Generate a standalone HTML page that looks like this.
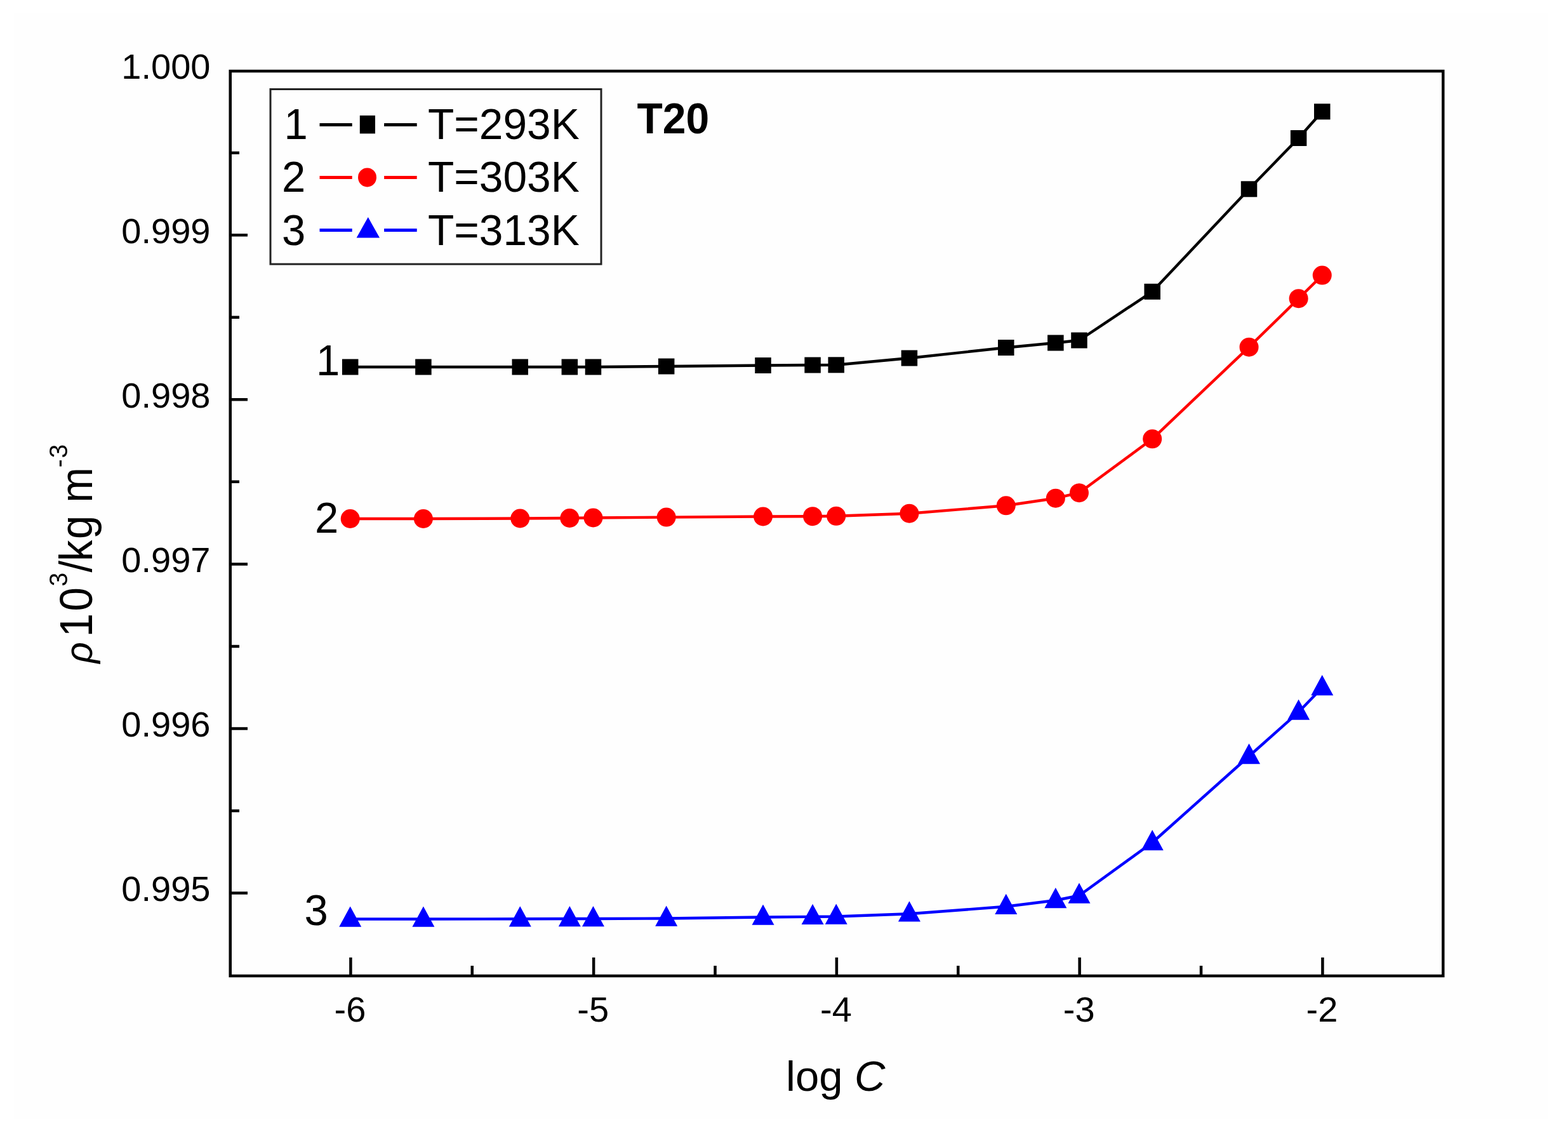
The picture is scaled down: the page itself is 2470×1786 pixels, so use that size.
<!DOCTYPE html>
<html><head><meta charset="utf-8"><title>Density vs log C</title>
<style>html,body{margin:0;padding:0;background:#fff;}svg{display:block;}text{font-family:"Liberation Sans",Arial,sans-serif;fill:#000;}</style></head><body>
<svg width="2470" height="1786" viewBox="0 0 2470 1786">
<rect x="0" y="0" width="2470" height="1786" fill="#fff"/>
<rect x="22" y="20" width="2416" height="1742" fill="#fefefe"/>
<rect x="362.75" y="112" width="1910.5" height="1425" fill="none" stroke="#000" stroke-width="4.5"/>
<path d="M362.75,370.30H390 M362.75,629.35H390 M362.75,888.40H390 M362.75,1147.45H390 M362.75,1406.50H390 M362.75,240.77H377 M362.75,499.82H377 M362.75,758.87H377 M362.75,1017.92H377 M362.75,1276.97H377 M552.40,1537V1508 M935.15,1537V1508 M1317.90,1537V1508 M1700.65,1537V1508 M2083.40,1537V1508 M743.77,1537V1521 M1126.53,1537V1521 M1509.28,1537V1521 M1892.03,1537V1521" stroke="#000" stroke-width="4.5" fill="none"/>
<text x="331.5" y="123.85" font-size="56" text-anchor="end">1.000</text>
<text x="331.5" y="382.90" font-size="56" text-anchor="end">0.999</text>
<text x="331.5" y="641.95" font-size="56" text-anchor="end">0.998</text>
<text x="331.5" y="901.00" font-size="56" text-anchor="end">0.997</text>
<text x="331.5" y="1160.05" font-size="56" text-anchor="end">0.996</text>
<text x="331.5" y="1419.10" font-size="56" text-anchor="end">0.995</text>
<text x="551.40" y="1609" font-size="56" text-anchor="middle">-6</text>
<text x="934.15" y="1609" font-size="56" text-anchor="middle">-5</text>
<text x="1316.90" y="1609" font-size="56" text-anchor="middle">-4</text>
<text x="1699.65" y="1609" font-size="56" text-anchor="middle">-3</text>
<text x="2082.40" y="1609" font-size="56" text-anchor="middle">-2</text>
<text x="1238" y="1718" font-size="67">log <tspan font-style="italic">C</tspan></text>
<g transform="translate(145,1049) rotate(-90) scale(1,1.065)"><text x="4.5" y="0.0" font-size="58"><tspan font-style="italic">&#961;</tspan></text><text x="45.7" y="0.0" font-size="67">1</text><text x="86.5" y="0.0" font-size="67">0</text><text x="125.6" y="-36.6" font-size="39">3</text><text x="147.5" y="0.0" font-size="67">/</text><text x="164.9" y="0.0" font-size="67">k</text><text x="200.1" y="0.0" font-size="67">g</text><text x="257.3" y="0.0" font-size="67">m</text><text x="312.8" y="-36.6" font-size="39">-</text><text x="327.5" y="-36.6" font-size="39">3</text></g>
<path d="M551.70,578.00 L666.91,578.00 L819.25,578.00 L897.33,578.00 L934.46,578.00 L1049.67,577.00 L1202.01,575.50 L1280.09,575.00 L1317.22,574.80 L1432.43,564.00 L1584.77,547.50 L1662.85,540.00 L1699.98,536.00 L1815.19,459.30 L1967.53,297.80 L2045.61,217.50 L2082.74,175.80" stroke="#000" stroke-width="4.4" fill="none" stroke-linejoin="round"/>
<path d="M551.70,817.00 L666.91,817.00 L819.25,816.50 L897.33,816.00 L934.46,815.50 L1049.67,814.60 L1202.01,813.50 L1280.09,813.20 L1317.22,812.80 L1432.43,808.70 L1584.77,796.30 L1662.85,784.70 L1699.98,776.20 L1815.19,691.30 L1967.53,546.70 L2045.61,470.20 L2082.74,433.60" stroke="#ff0000" stroke-width="4.4" fill="none" stroke-linejoin="round"/>
<path d="M551.70,1447.50 L666.91,1447.50 L819.25,1447.30 L897.33,1447.00 L934.46,1447.00 L1049.67,1446.50 L1202.01,1444.50 L1280.09,1443.80 L1317.22,1443.50 L1432.43,1439.30 L1584.77,1427.80 L1662.85,1418.00 L1699.98,1410.50 L1815.19,1327.00 L1967.53,1191.00 L2045.61,1121.50 L2082.74,1083.00" stroke="#0000ff" stroke-width="4.4" fill="none" stroke-linejoin="round"/>
<rect x="538.95" y="565.50" width="25.5" height="25" fill="#000"/><rect x="654.16" y="565.50" width="25.5" height="25" fill="#000"/><rect x="806.50" y="565.50" width="25.5" height="25" fill="#000"/><rect x="884.58" y="565.50" width="25.5" height="25" fill="#000"/><rect x="921.71" y="565.50" width="25.5" height="25" fill="#000"/><rect x="1036.92" y="564.50" width="25.5" height="25" fill="#000"/><rect x="1189.26" y="563.00" width="25.5" height="25" fill="#000"/><rect x="1267.34" y="562.50" width="25.5" height="25" fill="#000"/><rect x="1304.47" y="562.30" width="25.5" height="25" fill="#000"/><rect x="1419.68" y="551.50" width="25.5" height="25" fill="#000"/><rect x="1572.02" y="535.00" width="25.5" height="25" fill="#000"/><rect x="1650.10" y="527.50" width="25.5" height="25" fill="#000"/><rect x="1687.23" y="523.50" width="25.5" height="25" fill="#000"/><rect x="1802.44" y="446.80" width="25.5" height="25" fill="#000"/><rect x="1954.78" y="285.30" width="25.5" height="25" fill="#000"/><rect x="2032.86" y="205.00" width="25.5" height="25" fill="#000"/><rect x="2069.99" y="163.30" width="25.5" height="25" fill="#000"/><circle cx="551.70" cy="817.00" r="15" fill="#ff0000"/><circle cx="666.91" cy="817.00" r="15" fill="#ff0000"/><circle cx="819.25" cy="816.50" r="15" fill="#ff0000"/><circle cx="897.33" cy="816.00" r="15" fill="#ff0000"/><circle cx="934.46" cy="815.50" r="15" fill="#ff0000"/><circle cx="1049.67" cy="814.60" r="15" fill="#ff0000"/><circle cx="1202.01" cy="813.50" r="15" fill="#ff0000"/><circle cx="1280.09" cy="813.20" r="15" fill="#ff0000"/><circle cx="1317.22" cy="812.80" r="15" fill="#ff0000"/><circle cx="1432.43" cy="808.70" r="15" fill="#ff0000"/><circle cx="1584.77" cy="796.30" r="15" fill="#ff0000"/><circle cx="1662.85" cy="784.70" r="15" fill="#ff0000"/><circle cx="1699.98" cy="776.20" r="15" fill="#ff0000"/><circle cx="1815.19" cy="691.30" r="15" fill="#ff0000"/><circle cx="1967.53" cy="546.70" r="15" fill="#ff0000"/><circle cx="2045.61" cy="470.20" r="15" fill="#ff0000"/><circle cx="2082.74" cy="433.60" r="15" fill="#ff0000"/><path d="M551.70,1427.50L569.20,1459.80L534.20,1459.80Z" fill="#0000ff"/><path d="M666.91,1427.50L684.41,1459.80L649.41,1459.80Z" fill="#0000ff"/><path d="M819.25,1427.30L836.75,1459.60L801.75,1459.60Z" fill="#0000ff"/><path d="M897.33,1427.00L914.83,1459.30L879.83,1459.30Z" fill="#0000ff"/><path d="M934.46,1427.00L951.96,1459.30L916.96,1459.30Z" fill="#0000ff"/><path d="M1049.67,1426.50L1067.17,1458.80L1032.17,1458.80Z" fill="#0000ff"/><path d="M1202.01,1424.50L1219.51,1456.80L1184.51,1456.80Z" fill="#0000ff"/><path d="M1280.09,1423.80L1297.59,1456.10L1262.59,1456.10Z" fill="#0000ff"/><path d="M1317.22,1423.50L1334.72,1455.80L1299.72,1455.80Z" fill="#0000ff"/><path d="M1432.43,1419.30L1449.93,1451.60L1414.93,1451.60Z" fill="#0000ff"/><path d="M1584.77,1407.80L1602.27,1440.10L1567.27,1440.10Z" fill="#0000ff"/><path d="M1662.85,1398.00L1680.35,1430.30L1645.35,1430.30Z" fill="#0000ff"/><path d="M1699.98,1390.50L1717.48,1422.80L1682.48,1422.80Z" fill="#0000ff"/><path d="M1815.19,1307.00L1832.69,1339.30L1797.69,1339.30Z" fill="#0000ff"/><path d="M1967.53,1171.00L1985.03,1203.30L1950.03,1203.30Z" fill="#0000ff"/><path d="M2045.61,1101.50L2063.11,1133.80L2028.11,1133.80Z" fill="#0000ff"/><path d="M2082.74,1063.00L2100.24,1095.30L2065.24,1095.30Z" fill="#0000ff"/>
<text transform="translate(498.00,590.60) scale(1.000,1.030)" font-size="67">1</text>
<text transform="translate(496.00,839.00) scale(1.000,1.030)" font-size="67">2</text>
<text transform="translate(479.50,1457.00) scale(1.000,1.030)" font-size="67">3</text>
<rect x="426" y="140.5" width="521" height="275.5" fill="none" stroke="#222" stroke-width="3"/>
<text transform="translate(466.00,219.40) scale(1.000,1.030)" font-size="67" text-anchor="middle">1</text>
<path d="M503.5,196.4H554.7M605.1,196.4H656.7" stroke="#000" stroke-width="5"/>
<rect x="566.8" y="181.9" width="24.2" height="28.5" fill="#000"/>
<text transform="translate(674.00,219.40) scale(1.010,1.030)" font-size="67">T=293K</text>
<text transform="translate(462.50,302.40) scale(1.000,1.030)" font-size="67" text-anchor="middle">2</text>
<path d="M503.5,279.4H554.7M605.1,279.4H656.7" stroke="#ff0000" stroke-width="5"/>
<ellipse cx="578.5" cy="279.4" rx="14.5" ry="15" fill="#ff0000"/>
<text transform="translate(674.00,302.40) scale(1.010,1.030)" font-size="67">T=303K</text>
<text transform="translate(462.50,385.50) scale(1.000,1.030)" font-size="67" text-anchor="middle">3</text>
<path d="M503.5,362.5H554.7M605.1,362.5H656.7" stroke="#0000ff" stroke-width="5"/>
<path d="M579.8,341.9L598,374.5L561.6,374.5Z" fill="#0000ff"/>
<text transform="translate(674.00,385.50) scale(1.010,1.030)" font-size="67">T=313K</text>
<text transform="translate(1003.50,210.30) scale(1.000,1.030)" font-size="66" font-weight="bold">T20</text>
</svg></body></html>
